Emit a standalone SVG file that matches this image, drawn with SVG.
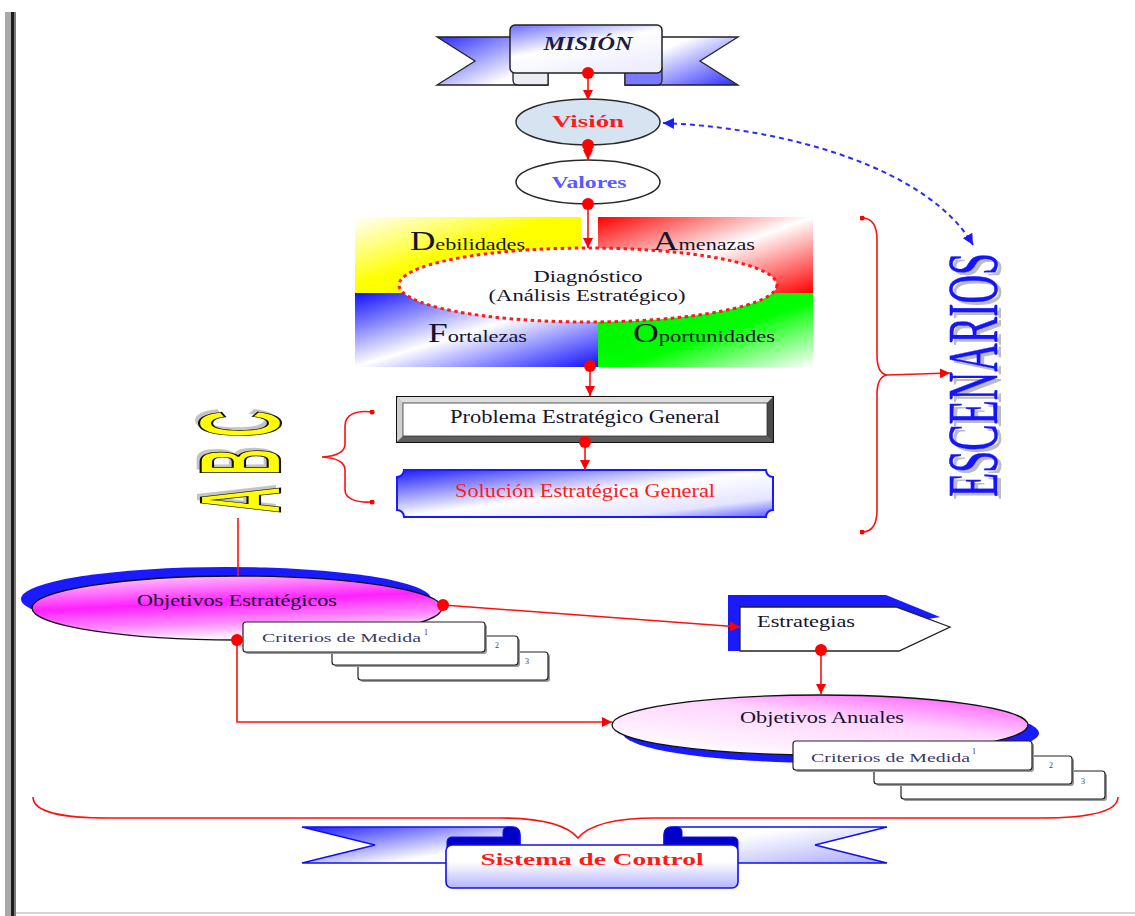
<svg xmlns="http://www.w3.org/2000/svg" width="1135" height="916" viewBox="0 0 1135 916">
  <defs>
    <style>
      .serif { font-family: "Liberation Serif", "Times New Roman", serif; }
      .lbl { font-family: "Liberation Serif", "Times New Roman", serif; fill: #14142e; }
      .crit { font-family: "Liberation Serif", "Times New Roman", serif; fill: #3a3a6a; font-size: 13px; }
      .num { font-family: "Liberation Serif", "Times New Roman", serif; fill: #3a3a6a; font-size: 8px; }
      .conn { fill: none; stroke: #ff1010; stroke-width: 1.6; }
      .box { fill: #ffffff; stroke: #222; stroke-width: 1.2; }
      .boxsh { fill: #9a9a9a; }
    </style>
    <marker id="dot" viewBox="0 0 10 10" refX="5" refY="5" markerWidth="12" markerHeight="12" markerUnits="userSpaceOnUse">
      <circle cx="5" cy="5" r="5" fill="#ff0000"/>
    </marker>
    <marker id="tip" viewBox="0 0 10 10" refX="5" refY="5" markerWidth="5" markerHeight="5" markerUnits="userSpaceOnUse">
      <circle cx="5" cy="5" r="5" fill="#ff0000"/>
    </marker>
    <marker id="arr" viewBox="0 0 10 10" refX="10" refY="5" markerWidth="10" markerHeight="10" markerUnits="userSpaceOnUse" orient="auto">
      <path d="M0,0 L10,5 L0,10 z" fill="#ff0000"/>
    </marker>
    <marker id="barr" viewBox="0 0 10 10" refX="10" refY="5" markerWidth="11" markerHeight="11" markerUnits="userSpaceOnUse" orient="auto-start-reverse">
      <path d="M0,0 L10,5 L0,10 z" fill="#1a1aff"/>
    </marker>

    <linearGradient id="gMisL" x1="0" y1="0" x2="1" y2="1">
      <stop offset="0" stop-color="#2b2bff"/>
      <stop offset="0.75" stop-color="#ffffff"/>
    </linearGradient>
    <linearGradient id="gMisC" x1="0" y1="0" x2="0.6" y2="1">
      <stop offset="0" stop-color="#6a6aff"/>
      <stop offset="0.5" stop-color="#ffffff"/>
      <stop offset="1" stop-color="#eeeeff"/>
    </linearGradient>
    <linearGradient id="gMisR" x1="0" y1="0" x2="1" y2="1">
      <stop offset="0.3" stop-color="#ffffff"/>
      <stop offset="1" stop-color="#2b2bff"/>
    </linearGradient>
    <linearGradient id="gYel" x1="0" y1="0" x2="1" y2="1">
      <stop offset="0" stop-color="#ffffff"/>
      <stop offset="0.45" stop-color="#ffff00"/>
      <stop offset="1" stop-color="#ffff00"/>
    </linearGradient>
    <linearGradient id="gRed" x1="0" y1="0" x2="1" y2="1">
      <stop offset="0" stop-color="#ff0000"/>
      <stop offset="0.5" stop-color="#ffffff"/>
      <stop offset="1" stop-color="#ff0000"/>
    </linearGradient>
    <linearGradient id="gBlu" x1="0" y1="0" x2="1" y2="1">
      <stop offset="0" stop-color="#1010ff"/>
      <stop offset="0.5" stop-color="#ffffff"/>
      <stop offset="1" stop-color="#1010ff"/>
    </linearGradient>
    <linearGradient id="gGrn" x1="0" y1="0" x2="1" y2="1">
      <stop offset="0" stop-color="#00ee00"/>
      <stop offset="0.55" stop-color="#00ff00"/>
      <stop offset="1" stop-color="#ffffff"/>
    </linearGradient>
    <linearGradient id="gSol" x1="0" y1="0" x2="1" y2="1">
      <stop offset="0" stop-color="#1a1aff"/>
      <stop offset="0.5" stop-color="#ffffff"/>
      <stop offset="0.8" stop-color="#e4e4ff"/>
      <stop offset="1" stop-color="#5a5aff"/>
    </linearGradient>
    <linearGradient id="gObjE" x1="0" y1="0" x2="0.3" y2="1">
      <stop offset="0" stop-color="#ffe4ff"/>
      <stop offset="0.5" stop-color="#ff20ff"/>
      <stop offset="0.8" stop-color="#ff8cff"/>
      <stop offset="1" stop-color="#fff0ff"/>
    </linearGradient>
    <linearGradient id="gObjA" x1="1" y1="0" x2="0.2" y2="1">
      <stop offset="0" stop-color="#ff40ff"/>
      <stop offset="0.45" stop-color="#ffd4ff"/>
      <stop offset="1" stop-color="#ffffff"/>
    </linearGradient>
    <linearGradient id="gCtlL" x1="0" y1="0" x2="1" y2="1">
      <stop offset="0" stop-color="#1a1aff"/>
      <stop offset="0.7" stop-color="#ffffff"/>
    </linearGradient>
    <linearGradient id="gCtlC" x1="0" y1="0" x2="0" y2="1">
      <stop offset="0" stop-color="#ffffff"/>
      <stop offset="0.4" stop-color="#ffffff"/>
      <stop offset="1" stop-color="#b4b4ff"/>
    </linearGradient>
    <linearGradient id="gCtlR" x1="0" y1="0" x2="1" y2="1">
      <stop offset="0.3" stop-color="#ffffff"/>
      <stop offset="1" stop-color="#a8a8ff"/>
    </linearGradient>
  </defs>

  <rect width="1135" height="916" fill="#ffffff"/>

  <!-- page frame -->
  <g id="frame">
    <rect x="5" y="12" width="11" height="904" fill="#a8a8a8"/>
    <rect x="11" y="12" width="3" height="904" fill="#1c1c1c"/>
    <rect x="14" y="12" width="2" height="904" fill="#7a7a7a"/>
    <rect x="16" y="912" width="1119" height="2" fill="#d4d4d4"/>
  </g>

  <!-- MISIÓN ribbon -->
  <g id="mision">
    <path d="M437,37 H548 V85 H437 L475,61 Z" fill="url(#gMisL)" stroke="#222" stroke-width="1.3"/>
    <path d="M738,37 H625 V85 H738 L700,61 Z" fill="url(#gMisR)" stroke="#222" stroke-width="1.3"/>
    <path d="M513,68 V80 Q513,85 518,85 H548 V68 Z" fill="#ececf4" stroke="#222" stroke-width="1.3"/>
    <path d="M662,68 V80 Q662,85 657,85 H625 V68 Z" fill="#7a7aff" stroke="#222" stroke-width="1.3"/>
    <rect x="510" y="25" width="152" height="48" rx="5" fill="url(#gMisC)" stroke="#222" stroke-width="1.5"/>
    <text x="588" y="50" text-anchor="middle" class="serif" font-size="19" font-weight="bold" font-style="italic" fill="#1c1c44" textLength="89" lengthAdjust="spacingAndGlyphs">MISIÓN</text>
  </g>

  <!-- Visión -->
  <g id="vision">
    <ellipse cx="588" cy="122" rx="72" ry="23" fill="#d6e4f2" stroke="#2a2a2a" stroke-width="1.5"/>
    <text x="588" y="127" text-anchor="middle" class="serif" font-size="16" font-weight="bold" fill="#ff1a1a" textLength="72" lengthAdjust="spacingAndGlyphs">Visión</text>
  </g>

  <!-- Valores -->
  <g id="valores">
    <ellipse cx="588" cy="182" rx="72" ry="22" fill="#ffffff" stroke="#2a2a2a" stroke-width="1.5"/>
    <text x="589" y="188" text-anchor="middle" class="serif" font-size="16" font-weight="bold" fill="#5a5aff" textLength="75" lengthAdjust="spacingAndGlyphs">Valores</text>
  </g>

  <!-- Diagnóstico: four-quadrant matrix -->
  <g id="diagnostico">
    <rect x="355" y="217" width="226" height="76" fill="url(#gYel)"/>
    <rect x="598" y="217" width="215" height="76" fill="url(#gRed)"/>
    <rect x="355" y="293" width="243" height="74" fill="url(#gBlu)"/>
    <rect x="598" y="293" width="215" height="74" fill="url(#gGrn)"/>
    <text x="410" y="250" class="lbl" font-size="17" textLength="115" lengthAdjust="spacingAndGlyphs"><tspan font-size="27">D</tspan>ebilidades</text>
    <text x="653" y="250" class="lbl" font-size="17" textLength="102" lengthAdjust="spacingAndGlyphs"><tspan font-size="27">A</tspan>menazas</text>
    <text x="428" y="342" class="lbl" font-size="17" textLength="99" lengthAdjust="spacingAndGlyphs"><tspan font-size="27">F</tspan>ortalezas</text>
    <text x="633" y="342" class="lbl" font-size="17" textLength="142" lengthAdjust="spacingAndGlyphs"><tspan font-size="27">O</tspan>portunidades</text>
    <ellipse cx="588" cy="285" rx="189" ry="37" fill="#ffffff" stroke="#ff1a1a" stroke-width="3" stroke-dasharray="3.5 3.5"/>
    <text x="588" y="282" text-anchor="middle" class="lbl" font-size="16" textLength="109" lengthAdjust="spacingAndGlyphs">Diagnóstico</text>
    <text x="587" y="301" text-anchor="middle" class="lbl" font-size="16" textLength="197" lengthAdjust="spacingAndGlyphs">(Análisis Estratégico)</text>
  </g>

  <!-- Problema Estratégico General -->
  <g id="problema">
    <rect x="397" y="397" width="376" height="45" fill="#9a9a9a" stroke="#111" stroke-width="2"/>
    <polygon points="397,397 773,397 767,403 403,403" fill="#dedede"/>
    <polygon points="397,397 403,403 403,436 397,442" fill="#cfcfcf"/>
    <polygon points="397,442 403,436 767,436 773,442" fill="#5e5e5e"/>
    <polygon points="773,397 767,403 767,436 773,442" fill="#4a4a4a"/>
    <rect x="403" y="403" width="364" height="33" fill="#ffffff" stroke="#333" stroke-width="0.8"/>
    <text x="585" y="423" text-anchor="middle" class="lbl" font-size="18" textLength="270" lengthAdjust="spacingAndGlyphs">Problema Estratégico General</text>
  </g>

  <!-- Solución Estratégica General -->
  <g id="solucion">
    <path d="M404,470 H766 A7,7 0 0 0 773,477 V510 A7,7 0 0 0 766,517 H404 A7,7 0 0 0 397,510 V477 A7,7 0 0 0 404,470 Z" fill="url(#gSol)" stroke="#1a1aff" stroke-width="2"/>
    <text x="585" y="497" text-anchor="middle" class="serif" font-size="18" fill="#ff1a1a" textLength="260" lengthAdjust="spacingAndGlyphs">Solución Estratégica General</text>
  </g>

  <!-- ABC vertical lettering -->
  <g id="abc">
    <text transform="translate(276,510) rotate(-90) scale(1,3.2)" font-family="Liberation Sans, Arial, sans-serif" font-weight="bold" font-size="36" letter-spacing="12" fill="#c4c4c4">ABC</text>
    <text transform="translate(280,513) rotate(-90) scale(1,3.2)" font-family="Liberation Sans, Arial, sans-serif" font-weight="bold" font-size="36" letter-spacing="12" fill="#ffff00" stroke="#111" stroke-width="1.6" vector-effect="non-scaling-stroke">ABC</text>
  </g>

  <!-- ESCENARIOS vertical lettering -->
  <g id="escenarios">
    <text transform="translate(1001,500) rotate(-90)" class="serif" font-size="71" fill="#bcbcbc" textLength="244" lengthAdjust="spacingAndGlyphs">ESCENARIOS</text>
    <text transform="translate(997,497) rotate(-90)" class="serif" font-size="71" fill="#1414ff" stroke="#1414ff" stroke-width="0.6" textLength="244" lengthAdjust="spacingAndGlyphs">ESCENARIOS</text>
  </g>

  <!-- Objetivos Estratégicos -->
  <g id="objetivos-estrategicos">
    <ellipse cx="226" cy="599" rx="205" ry="32" fill="#1a1aff"/>
    <ellipse cx="237" cy="608" rx="205" ry="32" fill="url(#gObjE)" stroke="#111" stroke-width="1.3"/>
    <text x="237" y="606" text-anchor="middle" class="lbl" font-size="16" textLength="200" lengthAdjust="spacingAndGlyphs">Objetivos Estratégicos</text>
  </g>

  <!-- Criterios de Medida (estratégicos) -->
  <g id="criterios-1">
    <rect x="360" y="654" width="190" height="28" rx="3" class="boxsh"/>
    <rect x="358" y="652" width="190" height="28" rx="3" class="box"/>
    <rect x="334" y="638" width="186" height="29" rx="3" class="boxsh"/>
    <rect x="332" y="636" width="186" height="29" rx="3" class="box"/>
    <rect x="245" y="624" width="242" height="30" rx="3" class="boxsh"/>
    <rect x="243" y="622" width="242" height="30" rx="3" class="box"/>
    <text x="262" y="642" class="crit" textLength="159" lengthAdjust="spacingAndGlyphs">Criterios de Medida</text>
    <text x="424" y="635" class="num">1</text>
    <text x="495" y="648" class="num">2</text>
    <text x="525" y="664" class="num">3</text>
  </g>

  <!-- Estrategias -->
  <g id="estrategias">
    <path d="M728,595 H886 L940,617 L740,651 H728 Z" fill="#1a1aff"/>
    <path d="M740,607 H896 L950,627 L899,651 H740 Z" fill="#ffffff" stroke="#222" stroke-width="1.3"/>
    <text x="757" y="627" class="lbl" font-size="16" textLength="98" lengthAdjust="spacingAndGlyphs">Estrategias</text>
  </g>

  <!-- Objetivos Anuales -->
  <g id="objetivos-anuales">
    <ellipse cx="831" cy="733" rx="208" ry="30" fill="#1a1aff"/>
    <ellipse cx="820" cy="725" rx="208" ry="30" fill="url(#gObjA)" stroke="#111" stroke-width="1.3"/>
    <text x="822" y="723" text-anchor="middle" class="lbl" font-size="16" textLength="164" lengthAdjust="spacingAndGlyphs">Objetivos Anuales</text>
  </g>

  <!-- Criterios de Medida (anuales) -->
  <g id="criterios-2">
    <rect x="903" y="773" width="204" height="28" rx="3" class="boxsh"/>
    <rect x="901" y="771" width="204" height="28" rx="3" class="box"/>
    <rect x="876" y="758" width="198" height="28" rx="3" class="boxsh"/>
    <rect x="874" y="756" width="198" height="28" rx="3" class="box"/>
    <rect x="795" y="743" width="239" height="29" rx="3" class="boxsh"/>
    <rect x="793" y="741" width="239" height="29" rx="3" class="box"/>
    <text x="811" y="762" class="crit" textLength="159" lengthAdjust="spacingAndGlyphs">Criterios de Medida</text>
    <text x="972" y="754" class="num">1</text>
    <text x="1049" y="768" class="num">2</text>
    <text x="1081" y="784" class="num">3</text>
  </g>

  <!-- Sistema de Control ribbon -->
  <g id="sistema-control">
    <path d="M302,827 H512 Q520,827 520,835 V863 H302 L375,845 Z" fill="url(#gCtlL)" stroke="#1010ee" stroke-width="1.4"/>
    <path d="M887,827 H672 Q664,827 664,835 V863 H887 L815,845 Z" fill="url(#gCtlR)" stroke="#1010ee" stroke-width="1.4"/>
    <path d="M447,850 V842 Q447,837 452,837 H503 V832 Q503,827 508,827 H512 Q520,827 520,835 V850 Z" fill="#0000c8" stroke="#1010ee" stroke-width="1"/>
    <path d="M738,850 V842 Q738,837 733,837 H682 V832 Q682,827 677,827 H672 Q664,827 664,835 V850 Z" fill="#0000c8" stroke="#1010ee" stroke-width="1"/>
    <rect x="446" y="845" width="292" height="43" rx="6" fill="url(#gCtlC)" stroke="#1010ee" stroke-width="1.6"/>
    <text x="592" y="865" text-anchor="middle" class="serif" font-size="17" font-weight="bold" fill="#ff1a1a" textLength="223" lengthAdjust="spacingAndGlyphs">Sistema de Control</text>
  </g>

  <!-- connectors -->
  <g id="connectors">
    <path class="conn" d="M588,73 V100" marker-start="url(#dot)" marker-end="url(#arr)"/>
    <path class="conn" d="M588,145 V160" marker-start="url(#dot)" marker-end="url(#arr)"/>
    <path class="conn" d="M588,204 V248" marker-start="url(#dot)" marker-end="url(#arr)"/>
    <path class="conn" d="M590,366 V396" marker-start="url(#dot)" marker-end="url(#arr)"/>
    <path class="conn" d="M585,442 V470" marker-start="url(#dot)" marker-end="url(#arr)"/>
    <path class="conn" d="M443,605 L740,627" marker-start="url(#dot)" marker-end="url(#arr)"/>
    <path class="conn" d="M237,640 V722 H612" marker-start="url(#dot)" marker-end="url(#arr)"/>
    <path class="conn" d="M821,650 V694" marker-start="url(#dot)" marker-end="url(#arr)"/>
    <path class="conn" d="M238,518 V576"/>
    <path d="M663,123 C790,128 930,170 973,245" fill="none" stroke="#2a2aff" stroke-width="2" stroke-dasharray="5 4" marker-start="url(#barr)" marker-end="url(#barr)"/>
    <path class="conn" d="M372,412 C355,410 345,415 345,426 V444 C345,452 338,456 322,457 C338,458 345,462 345,470 V490 C345,498 355,503 372,502" marker-start="url(#tip)" marker-end="url(#tip)"/>
    <path class="conn" d="M862,218 C872,218 877,226 877,240 V355 C877,368 880,374 887,375 C880,376 877,382 877,395 V510 C877,524 872,532 862,532" marker-start="url(#tip)" marker-end="url(#tip)"/>
    <path class="conn" d="M887,375 L950,373" marker-end="url(#arr)"/>
    <path class="conn" d="M33,797 C33,812 60,818 110,818 H500 C545,818 568,826 578,838 C588,826 611,818 656,818 H1040 C1090,818 1118,812 1118,797"/>
  </g>
</svg>
